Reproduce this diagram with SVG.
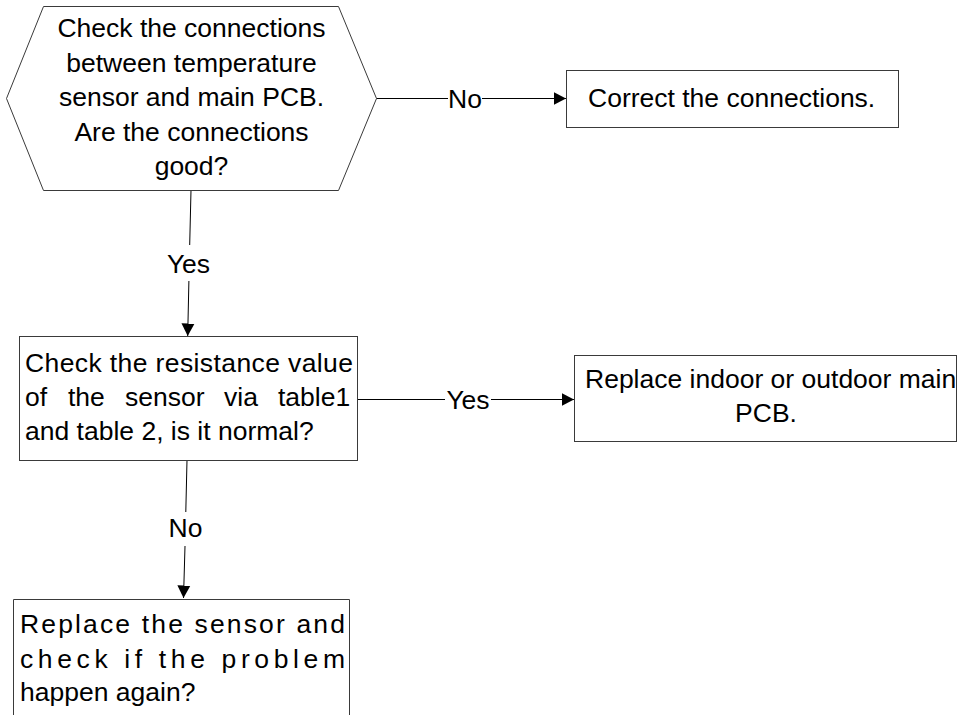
<svg xmlns="http://www.w3.org/2000/svg" width="958" height="715" viewBox="0 0 958 715">
<defs>
<style>
.n{fill:#fff;stroke:#3a3a3a;stroke-width:1}
.t{font-family:"Liberation Sans",Arial,sans-serif;font-size:26.5px;fill:#000}
.c{text-anchor:middle}
.e{fill:none;stroke:#000;stroke-width:1}
</style>
<marker id="ah" markerWidth="13" markerHeight="14" refX="12.5" refY="7" orient="auto" markerUnits="userSpaceOnUse">
<path d="M0,0.5 L12.5,7 L0,13.5 Z" fill="#000"/>
</marker>
</defs>
<rect width="958" height="715" fill="#fff"/>
<g id="connectors">
<line class="e" x1="376" y1="98.5" x2="448" y2="98.5"/>
<line class="e" x1="482" y1="98.5" x2="566" y2="98.5" marker-end="url(#ah)"/>
<text class="t c" x="465" y="107.5">No</text>
<line class="e" x1="191" y1="190" x2="189.7" y2="245"/>
<line class="e" x1="188.9" y1="281" x2="187.7" y2="336" marker-end="url(#ah)"/>
<text class="t c" x="188.5" y="272.5">Yes</text>
<line class="e" x1="357" y1="399.5" x2="445" y2="399.5"/>
<line class="e" x1="491" y1="399.5" x2="574" y2="399.5" marker-end="url(#ah)"/>
<text class="t c" x="468" y="409">Yes</text>
<line class="e" x1="187" y1="460" x2="185.8" y2="512"/>
<line class="e" x1="185" y1="546" x2="183.5" y2="598" marker-end="url(#ah)"/>
<text class="t c" x="185.5" y="537">No</text>
</g>
<g id="decision1">
<polygon class="n" points="43.5,6.5 338.5,6.5 376.5,98.5 338.5,190.5 43.5,190.5 6.5,98.5"/>
<text class="t c" x="191.5" y="37">Check the connections</text>
<text class="t c" x="191.5" y="71.5">between temperature</text>
<text class="t c" x="191.5" y="106">sensor and main PCB.</text>
<text class="t c" x="191.5" y="140.5">Are the connections</text>
<text class="t c" x="191.5" y="175">good?</text>
</g>
<g id="correct">
<rect class="n" x="566.5" y="70.5" width="332" height="57"/>
<text class="t" x="588" y="107">Correct the connections.</text>
</g>
<g id="check-resistance">
<rect class="n" x="19.5" y="336.5" width="338" height="124"/>
<text class="t" x="25" y="372" textLength="328" lengthAdjust="spacing">Check the resistance value</text>
<text class="t" y="406"><tspan x="25">of</tspan><tspan x="68">the</tspan><tspan x="125">sensor</tspan><tspan x="224">via</tspan><tspan x="278">table1</tspan></text>
<text class="t" x="25" y="440">and table 2, is it normal?</text>
</g>
<g id="replace-pcb">
<rect class="n" x="574.5" y="355.5" width="382" height="86"/>
<text class="t" x="585" y="388">Replace indoor or outdoor main</text>
<text class="t c" x="766" y="422">PCB.</text>
</g>
<g id="replace-sensor">
<path class="n" d="M13.5,720 V599.5 H349.5 V720"/>
<text class="t" x="20" y="633" textLength="325" lengthAdjust="spacing">Replace the sensor and</text>
<text class="t" x="20" y="668" textLength="325" lengthAdjust="spacing">check if the problem</text>
<text class="t" x="20" y="701">happen again?</text>
</g>
</svg>
